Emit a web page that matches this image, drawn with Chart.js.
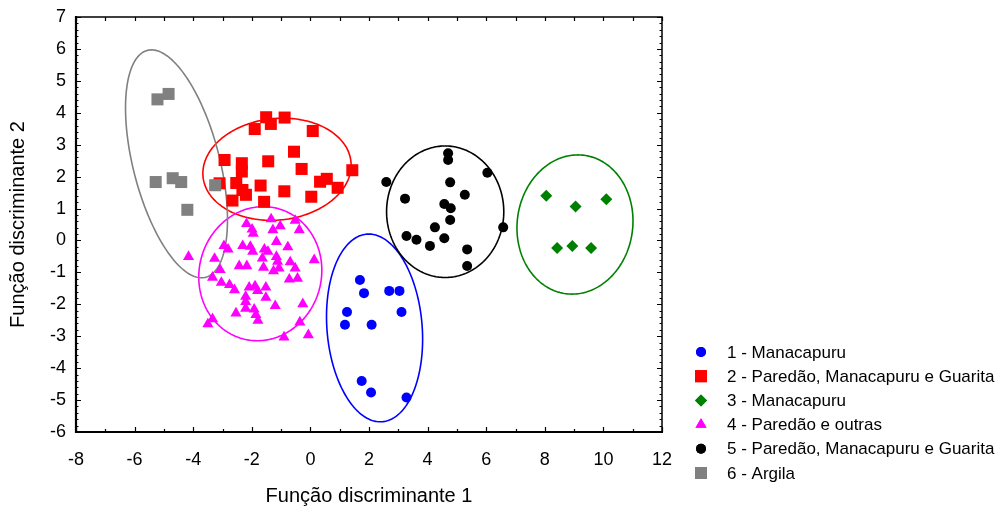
<!DOCTYPE html>
<html><head><meta charset="utf-8">
<script src="https://cdn.jsdelivr.net/npm/chart.js@4"></script>
<style>html,body{margin:0;padding:0;background:#fff}#wrap{width:998px;height:506px}</style>
</head><body><div id="wrap"><canvas id="c" width="998" height="506"></canvas></div>
<script>
const groupLabels = ['1 - Manacapuru','2 - Paredão, Manacapuru e Guarita','3 - Manacapuru','4 - Paredão e outras','5 - Paredão, Manacapuru e Guarita','6 - Argila'];
const xTitle = 'Função discriminante 1';
const yTitle = 'Função discriminante 2';

const group1X = [1.69,1.83,2.69,3.04,1.25,3.11,1.18,2.09,1.75,2.07,3.28];
const group1Y = [-1.24,-1.65,-1.58,-1.58,-2.24,-2.24,-2.64,-2.64,-4.40,-4.76,-4.92];

const group2X = [-1.51,-1.35,-0.88,-1.90,0.08,-2.93,-0.56,-1.44,-2.34,-2.34,-0.30,1.43,-3.10,-2.53,-1.70,0.33,0.56,0.93,-2.32,-2.20,-0.89,-2.66,-1.58,0.03];
const group2Y = [3.86,3.65,3.85,3.49,3.43,2.52,2.78,2.48,2.42,2.16,2.24,2.20,1.79,1.80,1.72,1.84,1.93,1.65,1.58,1.43,1.54,1.25,1.21,1.37];

const group3X = [8.05,9.05,10.10,8.42,8.94,9.58];
const group3Y = [1.40,1.06,1.29,-0.24,-0.17,-0.24];

const group4X = [-1.34,-2.18,-1.03,-0.52,-1.99,-1.95,-1.28,-0.38,-1.16,-2.95,-2.81,-2.31,-2.05,-1.97,-1.57,-1.45,-0.77,-4.16,-3.27,-1.64,-1.16,-1.12,-0.69,0.13,-2.43,-2.17,-1.60,-1.07,-1.26,-0.52,-3.08,-0.72,-0.44,-3.34,-3.04,-2.76,-2.59,-2.09,-1.89,-1.52,-1.80,-2.21,-1.52,-2.21,-2.21,-1.92,-1.20,-0.26,-2.54,-1.86,-1.79,-3.34,-3.50,-0.36,-0.90,-0.07];
const group4Y = [0.67,0.52,0.45,0.62,0.35,0.22,0.33,0.33,-0.04,-0.17,-0.28,-0.17,-0.19,-0.35,-0.28,-0.35,-0.21,-0.51,-0.57,-0.56,-0.51,-0.66,-0.68,-0.61,-0.80,-0.80,-0.85,-0.87,-0.96,-0.87,-0.92,-1.22,-1.19,-1.16,-1.32,-1.39,-1.55,-1.47,-1.43,-1.47,-1.58,-1.76,-1.79,-1.92,-2.13,-2.16,-2.05,-1.99,-2.28,-2.33,-2.51,-2.46,-2.62,-2.56,-3.03,-2.96];

const group5X = [4.70,4.70,6.04,2.59,4.77,5.27,3.23,4.57,4.79,4.77,4.25,6.58,3.28,3.62,4.57,4.08,5.35,5.35];
const group5Y = [2.73,2.52,2.12,1.83,1.82,1.43,1.31,1.14,1.01,0.64,0.41,0.41,0.14,0.02,0.07,-0.17,-0.28,-0.80];

const group6X = [-5.22,-4.84,-5.28,-4.70,-4.41,-4.20,-3.25];
const group6Y = [4.42,4.59,1.83,1.95,1.83,0.96,1.73];

// confidence ellipses: centre, half-extents and correlation (data units)
const ellipseCX = [2.19,-1.14,9.03,-1.71,4.60,-4.57];
const ellipseCY = [-2.74,2.23,0.50,-1.04,0.90,2.40];
const ellipseRX = [1.64,2.53,1.98,2.10,2.00,1.74];
const ellipseRY = [2.94,1.60,2.18,2.10,2.06,3.57];
const ellipseRho = [-0.12,0.08,0.05,0.05,0.0,-0.49];

const groupColors = ['#0000ff','#ff0000','#008000','#ff00ff','#000000','#808080'];
const groupStyles = ['circle','rect','rectRot','triangle','circle','rect'];
const groupRadius = [5,8.5,6,6.4,5,8.5];

const xs = [group1X,group2X,group3X,group4X,group5X,group6X];
const ys = [group1Y,group2Y,group3Y,group4Y,group5Y,group6Y];

const datasets = groupLabels.map((lab,i)=>({
  label: lab,
  data: xs[i].map((v,k)=>({x:v,y:ys[i][k]})),
  pointStyle: groupStyles[i],
  pointRadius: groupRadius[i],
  pointHoverRadius: groupRadius[i],
  backgroundColor: groupColors[i],
  borderColor: groupColors[i],
  borderWidth: 0,
  order: 6 - i
}));

const FONT = "'Liberation Sans', Arial, sans-serif";

const ellipsePlugin = {
  id:'ellipses',
  beforeDatasetsDraw(chart){
    const {ctx, scales:{x,y}} = chart;
    ctx.save();
    for(let i=0;i<ellipseCX.length;i++){
      ctx.beginPath();
      const r = ellipseRho[i], s = Math.sqrt(1-r*r);
      for(let k=0;k<=240;k++){
        const t = k/240*2*Math.PI;
        const dx = ellipseRX[i]*Math.cos(t);
        const dy = ellipseRY[i]*(r*Math.cos(t)+s*Math.sin(t));
        const px = x.getPixelForValue(ellipseCX[i]+dx);
        const py = y.getPixelForValue(ellipseCY[i]+dy);
        if(k===0) ctx.moveTo(px,py); else ctx.lineTo(px,py);
      }
      ctx.closePath();
      ctx.strokeStyle = groupColors[i];
      ctx.lineWidth = 1.6;
      ctx.stroke();
    }
    ctx.restore();
  }
};

const framePlugin = {
  id:'frame',
  afterDraw(chart){
    const {ctx, chartArea:a, scales:{x,y}} = chart;
    ctx.save();
    ctx.strokeStyle='#000';
    ctx.lineWidth=1.5;
    ctx.beginPath();
    ctx.moveTo(a.left,a.top); ctx.lineTo(a.right,a.top); ctx.lineTo(a.right,a.bottom);
    ctx.stroke();
    ctx.lineWidth=2.2;
    ctx.beginPath();
    ctx.moveTo(a.left,a.top-1); ctx.lineTo(a.left,a.bottom); ctx.lineTo(a.right+1,a.bottom);
    ctx.stroke();
    ctx.lineWidth=1.2;
    ctx.beginPath();
    for(let v=x.min; v<=x.max+1e-9; v+=1){
      const px = Math.round(x.getPixelForValue(v))+0.5;
      const major = Math.round(v)%2===0;
      const L = major?5:3;
      ctx.moveTo(px,a.bottom); ctx.lineTo(px,a.bottom-L);
      ctx.moveTo(px,a.top); ctx.lineTo(px,a.top+4);
    }
    for(let k=0; k<=Math.round((y.max-y.min)*5); k++){
      const v = y.min + k*0.2;
      const py = Math.round(y.getPixelForValue(v))+0.5;
      const major = k%5===0;
      const L = major?5:2.5;
      ctx.moveTo(a.left,py); ctx.lineTo(a.left+L,py);
      ctx.moveTo(a.right,py); ctx.lineTo(a.right-L,py);
    }
    ctx.stroke();
    ctx.restore();
  }
};

const legendPlugin = {
  id:'customLegend',
  afterDraw(chart){
    const ctx = chart.ctx;
    ctx.save();
    ctx.font = "17px "+FONT;
    ctx.textBaseline='middle';
    ctx.fillStyle='#000';
    chart.data.datasets.forEach((ds,i)=>{
      const cy = 352 + i*24.2;
      ctx.fillStyle = ds.backgroundColor;
      ctx.strokeStyle = ds.borderColor;
      Chart.helpers.drawPoint(ctx,{pointStyle:ds.pointStyle, radius:ds.pointRadius, borderWidth:0, rotation:0}, 701, cy);
      ctx.fill();
      ctx.fillStyle='#000';
      ctx.fillText(ds.label, 727, cy+1);
    });
    ctx.restore();
  }
};

new Chart(document.getElementById('c'),{
  type:'scatter',
  data:{datasets},
  options:{
    responsive:false,
    devicePixelRatio:1,
    animation:false,
    events:[],
    layout:{padding:{left:0,right:336,top:17,bottom:0}},
    plugins:{legend:{display:false},tooltip:{enabled:false}},
    scales:{
      x:{
        type:'linear', min:-8, max:12,
        afterFit(s){ s.height = 74; s.paddingLeft = 0; s.paddingRight = 0; },
        ticks:{stepSize:2, color:'#000', font:{family:FONT,size:18}, padding:17},
        grid:{display:false, drawTicks:false},
        border:{display:false},
        title:{display:true, text:xTitle, color:'#000', font:{family:FONT,size:20,lineHeight:1.0}, padding:{top:0,bottom:0}}
      },
      y:{
        type:'linear', min:-6, max:7,
        afterFit(s){ s.width = 76; s.paddingTop = 0; s.paddingBottom = 0; },
        ticks:{stepSize:1, color:'#000', font:{family:FONT,size:18}, padding:10},
        grid:{display:false, drawTicks:false},
        border:{display:false},
        title:{display:true, text:yTitle, color:'#000', font:{family:FONT,size:20}, padding:{top:6,bottom:0}}
      }
    }
  },
  plugins:[ellipsePlugin, framePlugin, legendPlugin]
});
</script></body></html>
